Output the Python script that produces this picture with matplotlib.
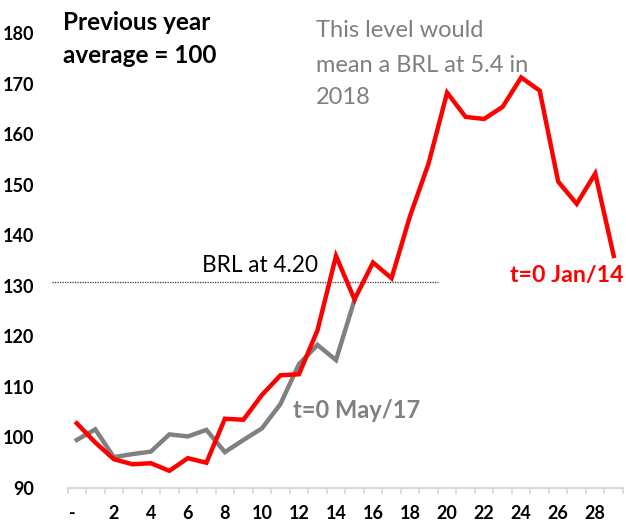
import matplotlib
matplotlib.use("Agg")
import matplotlib.pyplot as plt
from matplotlib.transforms import ScaledTranslation

# Months since t=0 (x axis categories)
months = list(range(30))

# Index (previous year average = 100), episode starting Jan/14
jan14 = [102.8, 99.0, 95.7, 94.7, 94.9, 93.4, 95.9, 95.0, 103.7, 103.5,
         108.4, 112.3, 112.5, 121.2, 135.9, 127.3, 134.6, 131.5, 143.8, 154.2,
         168.2, 163.4, 163.0, 165.4, 171.2, 168.6, 150.6, 146.2, 152.2, 135.9]

# Index (previous year average = 100), episode starting May/17
may17 = [99.5, 101.6, 96.1, 96.7, 97.2, 100.6, 100.2, 101.5, 97.1, 99.5,
         101.8, 106.6, 114.5, 118.3, 115.3, 127.2]

# Reference level for BRL at 4.20
brl_420_level = 130.7

y_ticks = [90, 100, 110, 120, 130, 140, 150, 160, 170, 180]
x_tick_pos = list(range(0, 30, 2))
x_tick_labels = ["-"] + [str(v) for v in range(2, 30, 2)]

W, H = 626, 527
DPI = 100
FONT = "Lato"
plt.rcParams["font.family"] = [FONT, "DejaVu Sans"]

fig = plt.figure(figsize=(W / DPI, H / DPI), dpi=DPI)
left_px, right_px, top_px, bottom_px = 67.5, 623.0, 33.0, 488.0
ax = fig.add_axes([left_px / W, 1 - bottom_px / H,
                   (right_px - left_px) / W, (bottom_px - top_px) / H])

ax.plot(months, jan14, color="#ff0000", lw=3.2, solid_joinstyle="miter",
        clip_on=False, zorder=3)
ax.plot(months[:len(may17)], may17, color="#808080", lw=3.2,
        solid_joinstyle="miter", clip_on=False, zorder=2)

ax.set_xlim(-0.5, 29.5)
ax.set_ylim(90, 180)

# Dotted reference line (extends into the label margin on the left)
ax.plot([-1.35, 19.5], [brl_420_level, brl_420_level], color="#333333",
        lw=0.9, ls=(0, (1, 1)), clip_on=False, zorder=1)

for s in ["top", "right", "left"]:
    ax.spines[s].set_visible(False)
ax.spines["bottom"].set_color("#d9d9d9")
ax.spines["bottom"].set_linewidth(1.5)

# Category boundary tick marks, labels on even categories
ax.set_xticks([m - 0.5 for m in range(31)], minor=True)
ax.tick_params(axis="x", which="minor", length=4.5, width=1.2,
               color="#d9d9d9", direction="out")
ax.set_xticks(x_tick_pos)
ax.set_xticklabels(x_tick_labels, fontsize=13, fontweight="bold")
ax.tick_params(axis="x", which="major", length=0, pad=12)
# zero label is drawn a bit to the left, as an accounting-style dash
lbl0 = ax.get_xticklabels()[0]
lbl0.set_transform(lbl0.get_transform() +
                   ScaledTranslation(-4 / DPI, 0, fig.dpi_scale_trans))

ax.set_yticks(y_ticks)
ax.set_yticklabels([str(v) for v in y_ticks], fontsize=13, fontweight="bold")
ax.tick_params(axis="y", length=0, pad=24)


def ptext(x, y, s, **kw):
    fig.text(x / W, 1 - y / H, s, va="baseline", ha="left", **kw)


ptext(62.7, 29.5, "Previous year", fontsize=17.5, fontweight="bold", color="black")
ptext(62.7, 62.7, "average = 100", fontsize=17.5, fontweight="bold", color="black")

gray_txt = "#7f7f7f"
ptext(316, 37.3, "This level would", fontsize=17, color=gray_txt)
ptext(316, 71.7, "mean a BRL at 5.4 in", fontsize=17, color=gray_txt)
ptext(316, 104.0, "2018", fontsize=17, color=gray_txt)

ptext(201.7, 271.7, "BRL at 4.20", fontsize=16.3, color="black")
ptext(292.7, 418.0, "t=0 May/17", fontsize=17, fontweight="bold", color="#808080")
ptext(510.0, 281.7, "t=0 Jan/14", fontsize=16.7, fontweight="bold", color="#ff0000")

fig.savefig("out.png", dpi=DPI)
